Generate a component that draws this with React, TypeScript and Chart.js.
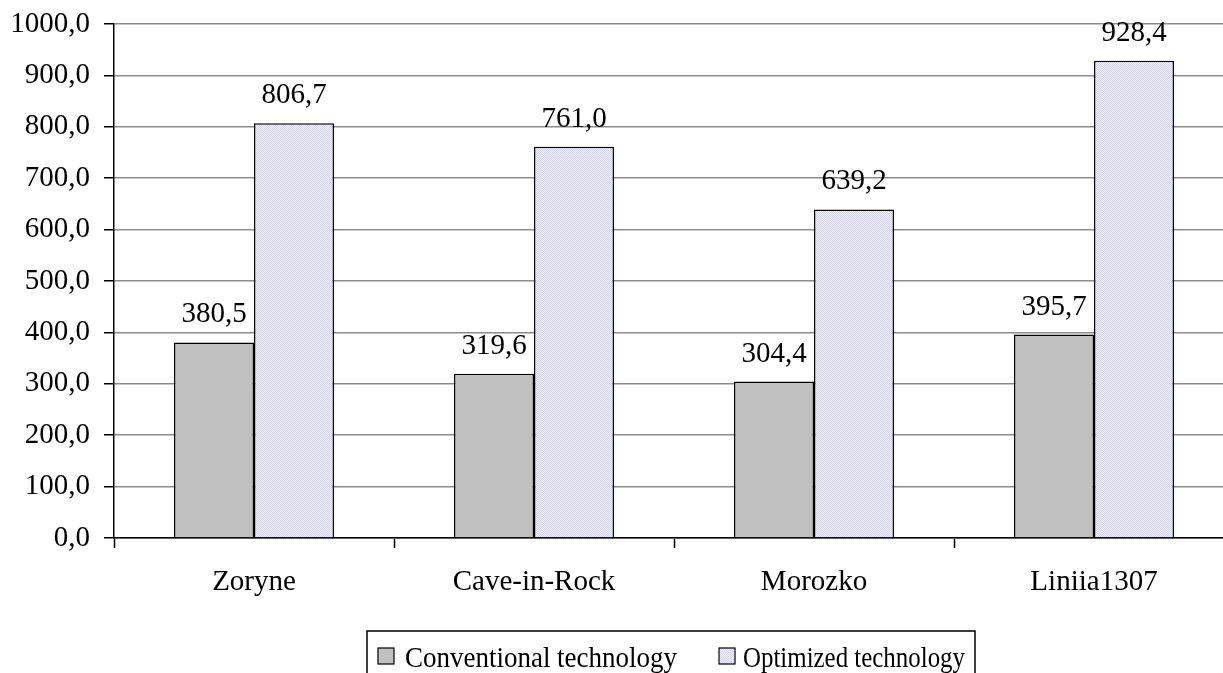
import React, { useEffect, useRef } from "react";
import { Chart, registerables } from "chart.js";

Chart.register(...registerables);

const categories = ["Zoryne", "Cave-in-Rock", "Morozko", "Liniia1307"];
const conventional = [380.5, 319.6, 304.4, 395.7];
const optimized = [806.7, 761.0, 639.2, 928.4];
const seriesNames = ["Conventional technology", "Optimized technology"];
const yTickLabels = ["0,0", "100,0", "200,0", "300,0", "400,0", "500,0", "600,0", "700,0", "800,0", "900,0", "1000,0"];

const FONT = "'Liberation Serif', 'Times New Roman', serif";

function fmt(v: number) {
  return v.toFixed(1).replace(".", ",");
}

export default function App() {
  const ref = useRef<HTMLCanvasElement | null>(null);

  useEffect(() => {
    const canvas = ref.current!;
    const pc = document.createElement("canvas");
    pc.width = 2;
    pc.height = 2;
    const pctx = pc.getContext("2d")!;
    pctx.fillStyle = "#F2F2FF";
    pctx.fillRect(0, 0, 2, 2);
    pctx.fillStyle = "#D4D4FA";
    pctx.fillRect(0, 0, 1, 1);
    pctx.fillRect(1, 1, 1, 1);
    const pattern = canvas.getContext("2d")!.createPattern(pc, "repeat")!;

    const fills: any[] = ["#C0C0C0", pattern];

    const valueLabels = {
      id: "valueLabels",
      afterDatasetsDraw(chart: any) {
        const ctx = chart.ctx;
        ctx.save();
        ctx.font = `29px ${FONT}`;
        ctx.fillStyle = "#000";
        ctx.textAlign = "center";
        ctx.textBaseline = "alphabetic";
        chart.data.datasets.forEach((ds: any, di: number) => {
          const meta = chart.getDatasetMeta(di);
          meta.data.forEach((bar: any, i: number) => {
            ctx.fillText(fmt(ds.data[i]), bar.x, bar.y - 20);
          });
        });
        ctx.restore();
      },
    };

    const customLegend = {
      id: "customLegend",
      afterDraw(chart: any) {
        const ctx = chart.ctx;
        ctx.save();
        ctx.strokeStyle = "#000";
        ctx.lineWidth = 1.5;
        ctx.strokeRect(367, 631, 608, 80);
        ctx.font = `29px ${FONT}`;
        ctx.textBaseline = "alphabetic";
        ctx.textAlign = "left";
        const boxX = [378, 719];
        const textX = [405, 743];
        const maxW = [272, 222];
        seriesNames.forEach((name, i) => {
          ctx.fillStyle = fills[i];
          ctx.fillRect(boxX[i], 648, 16, 16);
          ctx.lineWidth = 1.2;
          ctx.strokeStyle = "#000";
          ctx.strokeRect(boxX[i], 648, 16, 16);
          ctx.fillStyle = "#000";
          ctx.fillText(name, textX[i], 667, maxW[i]);
        });
        ctx.restore();
      },
    };

    const chart = new Chart(canvas, {
      type: "bar",
      data: {
        labels: categories,
        datasets: [
          {
            label: seriesNames[0],
            data: conventional,
            backgroundColor: fills[0],
            borderColor: "#000",
            borderWidth: 1.5,
            categoryPercentage: 160 / 280,
            barPercentage: 1,
          },
          {
            label: seriesNames[1],
            data: optimized,
            backgroundColor: fills[1],
            borderColor: "#000",
            borderWidth: 1.5,
            categoryPercentage: 160 / 280,
            barPercentage: 1,
          },
        ],
      },
      options: {
        responsive: false,
        animation: false,
        layout: { padding: { left: 0, top: 24, right: 11, bottom: 0 } },
        plugins: {
          legend: { display: false },
          tooltip: { enabled: false },
        },
        scales: {
          x: {
            grid: {
              display: true,
              drawOnChartArea: false,
              drawTicks: true,
              tickLength: 10,
              tickColor: "#000",
              tickWidth: 1.5,
              offset: true,
            },
            border: { display: true, color: "#000", width: 1.5 },
            ticks: {
              font: { family: FONT, size: 29 },
              color: "#000",
              padding: 17,
              maxRotation: 0,
              autoSkip: false,
            },
            afterFit: (s: any) => {
              s.height = 135;
              s.paddingLeft = 0;
              s.paddingRight = 0;
            },
          },
          y: {
            min: 0,
            max: 1000,
            ticks: {
              stepSize: 100,
              font: { family: FONT, size: 29 },
              color: "#000",
              padding: 14,
              callback: (_v: any, i: number) => yTickLabels[i],
            },
            grid: {
              color: "#8c8c8c",
              lineWidth: 1.5,
              tickColor: "#000",
              tickWidth: 1.5,
              tickLength: 10,
              drawTicks: true,
            },
            border: { display: true, color: "#000", width: 1.5 },
            afterFit: (s: any) => {
              s.width = 114;
              s.paddingTop = 0;
              s.paddingBottom = 0;
            },
          },
        },
      },
      plugins: [valueLabels, customLegend],
    });
    return () => chart.destroy();
  }, []);

  return (
    <div
      style={{
        position: "fixed",
        left: 0,
        top: 0,
        width: 1223,
        height: 673,
        overflow: "hidden",
        background: "#fff",
      }}
    >
      <canvas ref={ref} width={1245} height={673} style={{ display: "block" }} />
    </div>
  );
}
